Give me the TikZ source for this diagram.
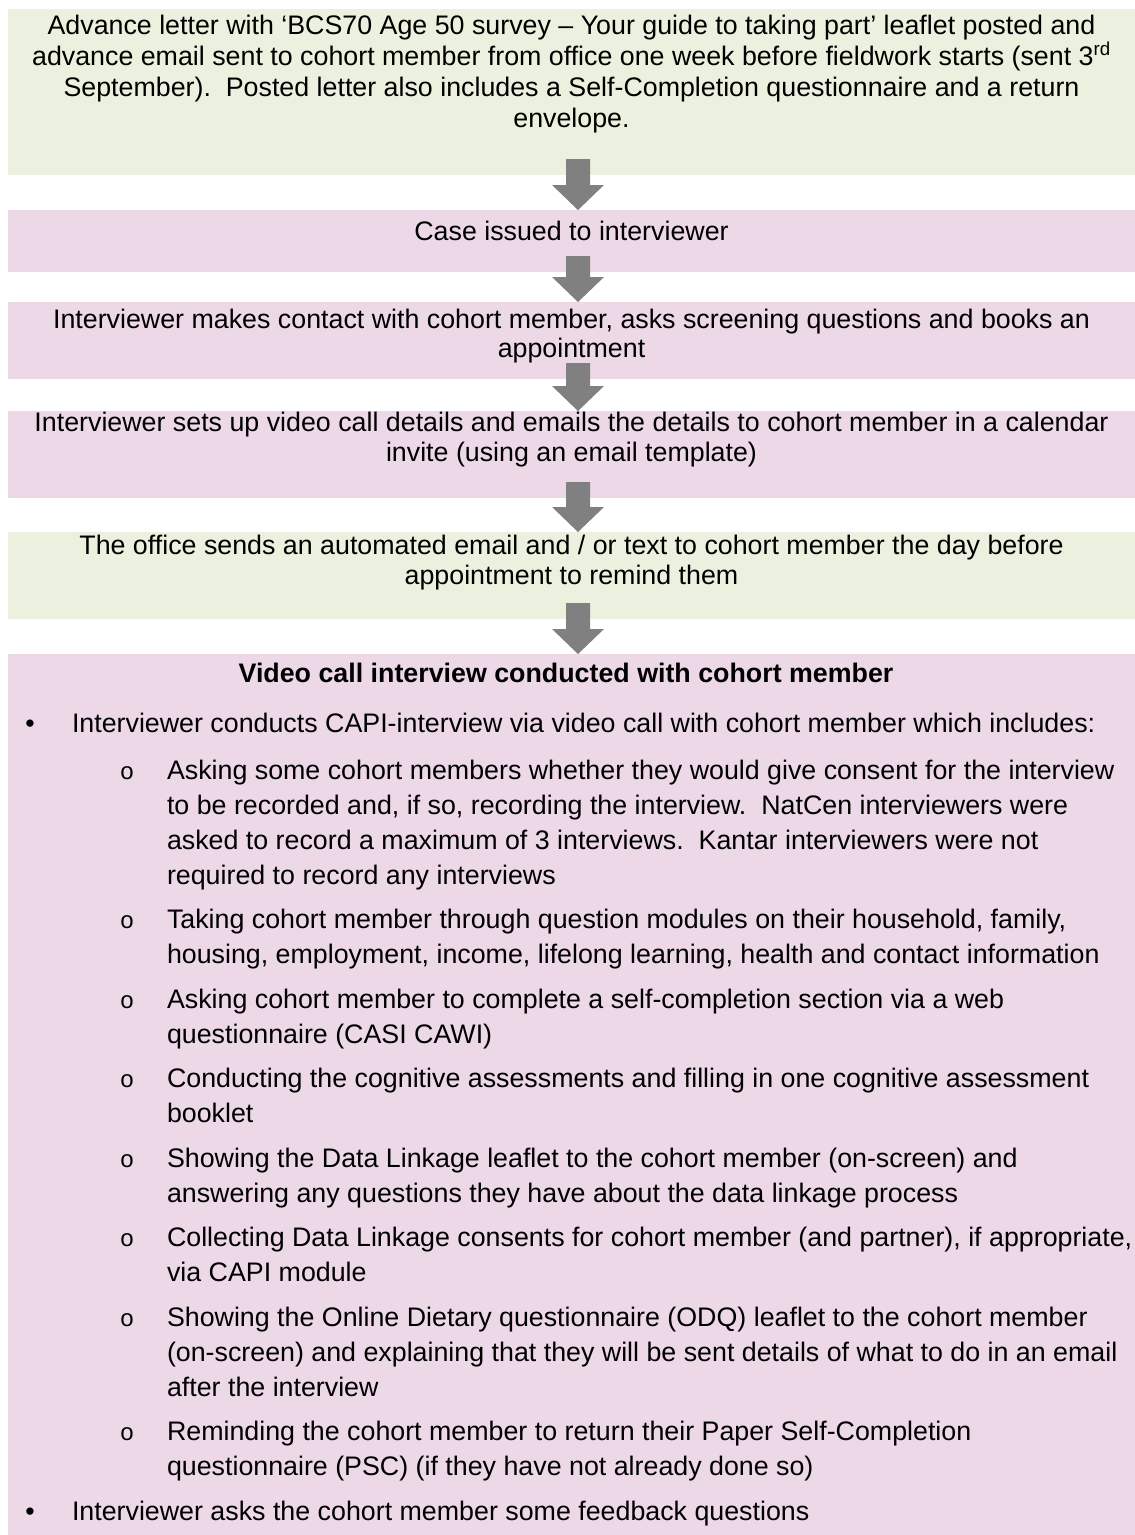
\documentclass[tikz,border=0pt]{standalone}
\usepackage{fontspec}
\setmainfont{Liberation Sans}
\newfontfamily\bulletmono{Liberation Mono}
\usetikzlibrary{calc}

\definecolor{stepgreen}{RGB}{235,241,222}
\definecolor{steppink}{RGB}{237,216,232}
\definecolor{arrowgray}{RGB}{128,128,128}

\tikzset{
  panel/.style={anchor=north west, minimum width=1127pt, inner sep=0pt, outer sep=0pt},
  greenpanel/.style={panel, fill=stepgreen},
  pinkpanel/.style={panel, fill=steppink},
  txtline/.style={anchor=base, inner sep=0pt, outer sep=0pt, font=\fontsize{26.8}{31}\selectfont},
  lefttxt/.style={txtline, anchor=base west},
  boldtxt/.style={txtline, font=\fontsize{26.8}{31}\selectfont\bfseries},
  dotbullet/.style={txtline},
  ringbullet/.style={txtline, font=\bulletmono\fontsize{24}{30}\selectfont},
}

% block arrow from the lower part of one panel down to the top of the next
\newcommand\flowarrow[2]{%
  \fill[arrowgray]
    ($(#1.south)+(-5.5,-16)$) -- ($(#1.south)+(18.5,-16)$)
    -- ($(#2.north)+(18.5,-25)$) -- ($(#2.north)+(32.5,-25)$)
    -- ($(#2.north)+(6.5,0)$)
    -- ($(#2.north)+(-19.5,-25)$) -- ($(#2.north)+(-5.5,-25)$) -- cycle;}

\begin{document}
\begin{tikzpicture}[x=1pt,y=-1pt]
\useasboundingbox (0,0) rectangle (1135,1535);
\fill[white] (0,0) rectangle (1135,1535);

% panels
\node[greenpanel, minimum height=166pt] (b1) at (8,9) {};
\node[pinkpanel,  minimum height=62pt]  (b2) at (8,210) {};
\node[pinkpanel,  minimum height=77pt]  (b3) at (8,302) {};
\node[pinkpanel,  minimum height=87pt]  (b4) at (8,411) {};
\node[greenpanel, minimum height=87pt]  (b5) at (8,532) {};
\node[pinkpanel,  minimum height=881pt] (b6) at (8,654) {};

% connectors
\flowarrow{b1}{b2}
\flowarrow{b2}{b3}
\flowarrow{b3}{b4}
\flowarrow{b4}{b5}
\flowarrow{b5}{b6}

% panel 1
\node[txtline] (a1) at (571.5,34) {Advance letter with ‘BCS70 Age 50 survey – Your guide to taking part’ leaflet posted and};
\node[txtline] (a2) at (571.5,65) {advance email sent to cohort member from office one week before fieldwork starts (sent 3\textsuperscript{rd}};
\node[txtline] (a3) at (571.5,96) {September).~~Posted letter also includes a Self-Completion questionnaire and a return};
\node[txtline] (a4) at (571.5,127) {envelope.};

% panel 2
\node[txtline] (p1) at (571.5,240) {Case issued to interviewer};

% panel 3
\node[txtline] (q1) at (571.5,328) {Interviewer makes contact with cohort member, asks screening questions and books an};
\node[txtline] (q2) at (571.5,357) {appointment};

% panel 4
\node[txtline] (r1) at (571.5,431) {Interviewer sets up video call details and emails the details to cohort member in a calendar};
\node[txtline] (r2) at (571.5,461) {invite (using an email template)};

% panel 5
\node[txtline] (s1) at (571.5,554) {The office sends an automated email and / or text to cohort member the day before};
\node[txtline] (s2) at (571.5,584) {appointment to remind them};

% panel 6
\node[boldtxt] (t0) at (566,682) {Video call interview conducted with cohort member};

\node[dotbullet] (u0) at (30,732) {•};
\node[lefttxt] (t1) at (72,732) {Interviewer conducts CAPI-interview via video call with cohort member which includes:};

\node[ringbullet] (v1) at (127,779) {o};
\node[lefttxt] (t2) at (167,779) {Asking some cohort members whether they would give consent for the interview};
\node[lefttxt] (t3) at (167,814) {to be recorded and, if so, recording the interview.~~NatCen interviewers were};
\node[lefttxt] (t4) at (167,849) {asked to record a maximum of 3 interviews.~~Kantar interviewers were not};
\node[lefttxt] (t5) at (167,884) {required to record any interviews};

\node[ringbullet] (v2) at (127,928.5) {o};
\node[lefttxt] (t6) at (167,928.5) {Taking cohort member through question modules on their household, family,};
\node[lefttxt] (t7) at (167,963.5) {housing, employment, income, lifelong learning, health and contact information};

\node[ringbullet] (v3) at (127,1008) {o};
\node[lefttxt] (t8) at (167,1008) {Asking cohort member to complete a self-completion section via a web};
\node[lefttxt] (t9) at (167,1043) {questionnaire (CASI CAWI)};

\node[ringbullet] (v4) at (127,1087.5) {o};
\node[lefttxt] (t10) at (167,1087.5) {Conducting the cognitive assessments and filling in one cognitive assessment};
\node[lefttxt] (t11) at (167,1122.5) {booklet};

\node[ringbullet] (v5) at (127,1167) {o};
\node[lefttxt] (t12) at (167,1167) {Showing the Data Linkage leaflet to the cohort member (on-screen) and};
\node[lefttxt] (t13) at (167,1202) {answering any questions they have about the data linkage process};

\node[ringbullet] (v6) at (127,1246.5) {o};
\node[lefttxt] (t14) at (167,1246.5) {Collecting Data Linkage consents for cohort member (and partner), if appropriate,};
\node[lefttxt] (t15) at (167,1281.5) {via CAPI module};

\node[ringbullet] (v7) at (127,1326) {o};
\node[lefttxt] (t16) at (167,1326) {Showing the Online Dietary questionnaire (ODQ) leaflet to the cohort member};
\node[lefttxt] (t17) at (167,1361) {(on-screen) and explaining that they will be sent details of what to do in an email};
\node[lefttxt] (t18) at (167,1396) {after the interview};

\node[ringbullet] (v8) at (127,1440.5) {o};
\node[lefttxt] (t19) at (167,1440.5) {Reminding the cohort member to return their Paper Self-Completion};
\node[lefttxt] (t20) at (167,1475.5) {questionnaire (PSC) (if they have not already done so)};

\node[dotbullet] (u1) at (30,1520) {•};
\node[lefttxt] (t21) at (72,1520) {Interviewer asks the cohort member some feedback questions};
\end{tikzpicture}
\end{document}
